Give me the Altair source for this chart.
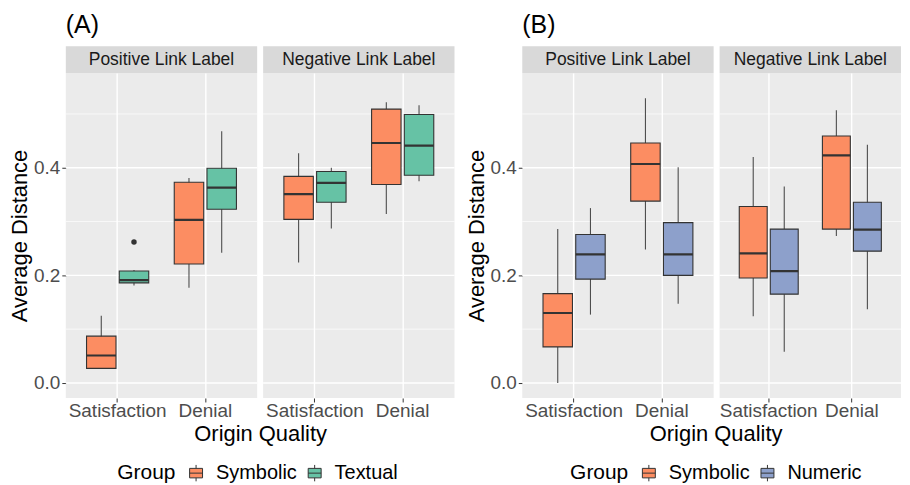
import altair as alt
import pandas as pd

FONT = "Liberation Sans"

labels = ["Positive Link Label", "Negative Link Label"]
qualities = ["Satisfaction", "Denial"]
groups_a = ["Symbolic", "Textual"]
groups_b = ["Symbolic", "Numeric"]
colors_a = ["#FC8D62", "#66C2A5"]
colors_b = ["#FC8D62", "#8DA0CB"]
block_titles = ["(A)", "(B)"]

# order: label -> quality -> group
a_min = [0.026, 0.181, 0.177, 0.242, 0.224, 0.287, 0.314, 0.375]
a_q1 = [0.027, 0.186, 0.221, 0.323, 0.304, 0.336, 0.369, 0.386]
a_med = [0.051, 0.191, 0.303, 0.363, 0.351, 0.372, 0.446, 0.441]
a_q3 = [0.087, 0.208, 0.373, 0.399, 0.384, 0.393, 0.509, 0.499]
a_max = [0.125, 0.210, 0.381, 0.468, 0.427, 0.400, 0.522, 0.516]

a_out_label = ["Positive Link Label"]
a_out_quality = ["Satisfaction"]
a_out_group = ["Textual"]
a_out_value = [0.262]

b_min = [0.000, 0.127, 0.248, 0.147, 0.124, 0.058, 0.273, 0.137]
b_q1 = [0.067, 0.193, 0.338, 0.200, 0.195, 0.165, 0.286, 0.245]
b_med = [0.130, 0.239, 0.407, 0.239, 0.241, 0.208, 0.423, 0.285]
b_q3 = [0.166, 0.276, 0.446, 0.298, 0.328, 0.286, 0.459, 0.336]
b_max = [0.286, 0.325, 0.529, 0.401, 0.420, 0.365, 0.507, 0.443]

major_ticks = [0.0, 0.2, 0.4]
minor_ticks = [0.1, 0.3, 0.5]
y_domain = [-0.028, 0.576]

PW, PH, SH = 192, 326, 27


def build_df(groups, mins, q1s, meds, q3s, maxs):
    rows = []
    i = 0
    for lab in labels:
        for q in qualities:
            for g in groups:
                rows.append(dict(Label=lab, Quality=q, Group=g, lo=mins[i], q1=q1s[i],
                                 med=meds[i], q3=q3s[i], hi=maxs[i]))
                i += 1
    return pd.DataFrame(rows)


df_a = build_df(groups_a, a_min, a_q1, a_med, a_q3, a_max)
df_b = build_df(groups_b, b_min, b_q1, b_med, b_q3, b_max)
out_a = pd.DataFrame({"Label": a_out_label, "Quality": a_out_quality,
                      "Group": a_out_group, "value": a_out_value})
out_b = pd.DataFrame({"Label": [], "Quality": [], "Group": [], "value": []})

SYMBOL = "M-0.75,-0.55H0.75V0.55H-0.75Z M-0.75,0H0.75 M0,-0.55V-0.95 M0,0.55V0.95"


def panel(df, out_df, label, groups, colors, first, legend_x, width, title_x, block_title):
    d = df[df.Label == label]
    o = out_df[out_df.Label == label]
    yscale = alt.Scale(domain=y_domain, nice=False, zero=False)
    xaxis_kw = dict(labelAngle=0, labelFontSize=19, labelColor="#4D4D4D", labelFont=FONT,
                    tickColor="#333333", tickSize=4, labelPadding=0, domain=False,
                    grid=True, gridColor="white", gridWidth=1.4, bandPosition=0.5)
    if first:
        yaxis = alt.Axis(values=major_ticks, format=".1f", title="Average Distance",
                         grid=False, domain=False, labelFontSize=19, labelColor="#4D4D4D",
                         labelFont=FONT, tickColor="#333333", tickSize=4, labelPadding=2,
                         titleFontSize=22, titleFont=FONT, titleFontWeight="normal",
                         titleColor="black", titlePadding=1.6)
        xaxis = alt.Axis(title="Origin Quality", titleX=title_x, titleAlign="center",
                         titleFontSize=22, titleFont=FONT, titleFontWeight="normal",
                         titleColor="black", titlePadding=3, **xaxis_kw)
        legend = alt.Legend(
            title="Group", orient="none", legendX=legend_x, legendY=391,
            direction="horizontal", titleOrient="left", titleFontSize=21,
            titleFont=FONT, titleFontWeight="normal", titleColor="black",
            titleBaseline="middle", titlePadding=10,
            labelFontSize=20, labelFont=FONT, labelColor="black",
            symbolType=SYMBOL, symbolSize=300, symbolStrokeColor="#333333",
            symbolStrokeWidth=1, symbolOpacity=1, columnPadding=7, labelOffset=10)
    else:
        yaxis = None
        xaxis = alt.Axis(title=None, **xaxis_kw)
        legend = None

    def Y(field):
        return alt.Y(f"{field}:Q", scale=yscale, axis=yaxis)

    xenc = alt.X("Quality:N", sort=qualities,
                 scale=alt.Scale(domain=qualities, paddingInner=0, paddingOuter=0.0909),
                 axis=xaxis)
    xoff = alt.XOffset("Group:N", sort=groups,
                       scale=alt.Scale(domain=groups, paddingInner=0.1, paddingOuter=0.39))
    color = alt.Color("Group:N", sort=groups, scale=alt.Scale(domain=groups, range=colors),
                      legend=legend)

    one = pd.DataFrame({"label": [label]})
    strip_bg = alt.Chart(one).mark_rect(color="#D9D9D9").encode(
        x=alt.value(0), x2=alt.value(width), y=alt.value(-SH), y2=alt.value(0))
    strip_txt = alt.Chart(one).mark_text(
        fontSize=17.5, color="#1A1A1A", font=FONT, baseline="middle", align="center"
    ).encode(x=alt.value(width / 2), y=alt.value(-SH / 2 + 0.5), text="label:N")

    minor = alt.Chart(pd.DataFrame({"v": minor_ticks})).mark_rule(
        color="white", strokeWidth=0.7).encode(y=Y("v"))
    major = alt.Chart(pd.DataFrame({"v": major_ticks})).mark_rule(
        color="white", strokeWidth=1.4).encode(y=Y("v"))
    whisker = alt.Chart(d).mark_rule(color="#4D4D4D", strokeWidth=1.1).encode(
        x=xenc, xOffset=xoff, y=Y("lo"), y2="hi")
    box = alt.Chart(d).mark_bar(stroke="#333333", strokeWidth=1.1, opacity=1).encode(
        x=xenc, xOffset=xoff, y=Y("q1"), y2="q3", color=color)
    med = alt.Chart(d).mark_bar(color="#333333", stroke="#333333", strokeWidth=2.2).encode(
        x=xenc, xOffset=xoff, y=Y("med"), y2="med")
    layers = [minor, major, whisker, box, med]
    if len(o) > 0:
        layers.append(alt.Chart(o).mark_circle(size=30, color="#333333", opacity=1).encode(
            x=xenc, xOffset=xoff, y=Y("value")))
    layers += [strip_bg, strip_txt]
    if first:
        tdf = pd.DataFrame({"t": [block_title]})
        layers.append(alt.Chart(tdf).mark_text(
            fontSize=25, font=FONT, color="black", align="left", baseline="top"
        ).encode(x=alt.value(0), y=alt.value(-60.2), text="t:N"))
    return alt.layer(*layers).properties(
        width=width, height=PH,
        view=alt.ViewBackground(fill="#EBEBEB", stroke="#EBEBEB", strokeWidth=0))


spacer = alt.Chart(pd.DataFrame({"a": [0]})).mark_point(opacity=0).encode(
    x=alt.value(0), y=alt.value(0)
).properties(width=55.7, height=PH,
             view=alt.ViewBackground(fill="white", stroke="white", strokeWidth=0))

panels = [
    panel(df_a, out_a, labels[0], groups_a, colors_a, True, 51.7, PW, 195, block_titles[0]),
    panel(df_a, out_a, labels[1], groups_a, colors_a, False, 0, PW, 0, block_titles[0]),
    spacer,
    panel(df_b, out_b, labels[0], groups_b, colors_b, True, 48, PW, 194, block_titles[1]),
    panel(df_b, out_b, labels[1], groups_b, colors_b, False, 0, 182, 0, block_titles[1]),
]

chart = alt.hconcat(*panels, spacing=6, bounds="flush").resolve_scale(
    color="independent", xOffset="independent").resolve_legend(
    color="independent").properties(
    padding={"left": 0, "top": 3.5, "right": 0, "bottom": 0}
).configure(font=FONT)

chart.save("out.html", embed_options={"renderer": "svg", "actions": False})
